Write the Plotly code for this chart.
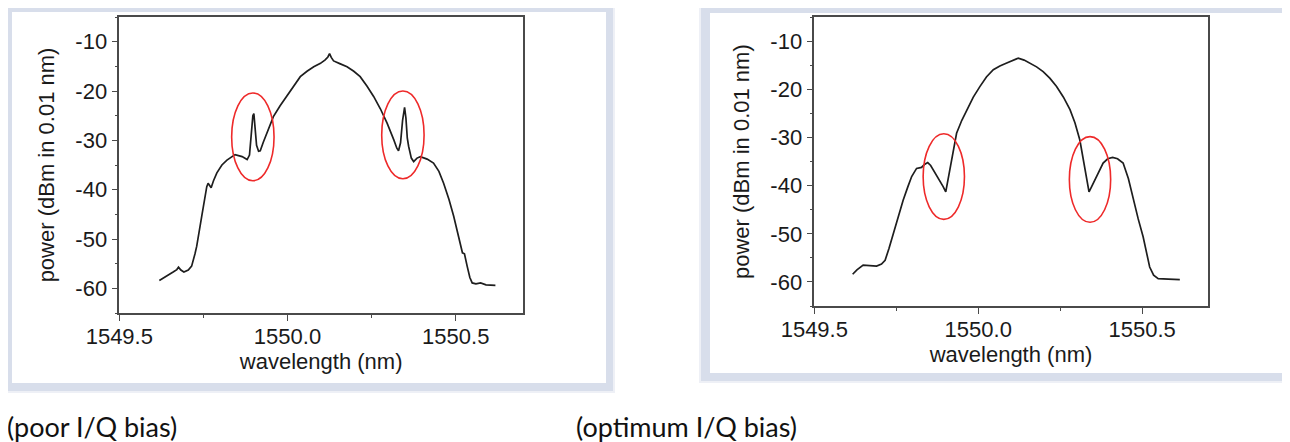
import plotly.graph_objects as go

W, H = 1290, 442      # size of the picture to match
PAGE_MARGIN = 8        # default body margin of the html page
FIG_W, FIG_H = W - PAGE_MARGIN, H - PAGE_MARGIN

# ── data ─────────────────────────────────────────────────────────────
POOR_WL = [1549.619, 1549.640, 1549.660, 1549.671, 1549.676, 1549.683, 1549.692,
           1549.705, 1549.715, 1549.725, 1549.730, 1549.745, 1549.755, 1549.760,
           1549.764, 1549.768, 1549.773, 1549.780, 1549.790, 1549.805, 1549.820,
           1549.844, 1549.865, 1549.880, 1549.887, 1549.892, 1549.897, 1549.900,
           1549.903, 1549.908, 1549.914, 1549.919, 1549.928, 1549.939, 1549.958,
           1549.978, 1549.998, 1550.018, 1550.038, 1550.058, 1550.078, 1550.098,
           1550.112, 1550.120, 1550.125, 1550.130, 1550.137, 1550.157, 1550.177,
           1550.197, 1550.216, 1550.236, 1550.256, 1550.276, 1550.296, 1550.316,
           1550.325, 1550.330, 1550.336, 1550.342, 1550.348, 1550.352, 1550.356,
           1550.360, 1550.368, 1550.375, 1550.385, 1550.395, 1550.415, 1550.434,
           1550.450, 1550.464, 1550.480, 1550.494, 1550.505, 1550.514, 1550.520,
           1550.526, 1550.530, 1550.534, 1550.542, 1550.549, 1550.560, 1550.574,
           1550.590, 1550.605, 1550.618]
POOR_DBM = [-58.4, -57.6, -56.7, -56.2, -55.7, -56.3, -56.7,
            -56.3, -55.5, -53.0, -51.5, -45.4, -41.0, -39.4,
            -38.7, -39.2, -39.6, -38.2, -36.6, -35.0, -34.0,
            -32.9, -33.3, -33.9, -33.0, -29.0, -25.0, -24.6,
            -26.5, -31.0, -32.2, -32.1, -30.4, -28.5, -25.2,
            -23.0, -21.1, -19.0, -17.1, -16.0, -15.1, -14.4,
            -13.7, -13.1, -12.4, -13.2, -13.9, -14.5, -15.1,
            -16.0, -17.1, -19.0, -21.1, -23.6, -26.5, -29.9,
            -31.6, -32.1, -30.5, -26.0, -23.3, -25.5, -29.5,
            -31.2, -33.6, -34.3, -33.6, -33.3, -33.8, -34.6,
            -36.3, -38.7, -42.0, -45.4, -48.8, -51.5, -52.8,
            -53.0, -54.0, -55.5, -57.8, -58.9, -59.1, -58.9,
            -59.3, -59.3, -59.4]

OPT_WL = [1549.617, 1549.630, 1549.649, 1549.665, 1549.690, 1549.705, 1549.716,
          1549.728, 1549.741, 1549.756, 1549.771, 1549.785, 1549.797, 1549.812,
          1549.827, 1549.836, 1549.846, 1549.855, 1549.863, 1549.873, 1549.883,
          1549.893, 1549.901, 1549.907, 1549.914, 1549.924, 1549.934, 1549.950,
          1549.965, 1549.985, 1550.005, 1550.025, 1550.046, 1550.066, 1550.087,
          1550.105, 1550.122, 1550.140, 1550.158, 1550.178, 1550.198, 1550.219,
          1550.239, 1550.260, 1550.280, 1550.295, 1550.310, 1550.325, 1550.338,
          1550.346, 1550.356, 1550.368, 1550.381, 1550.395, 1550.410, 1550.425,
          1550.442, 1550.458, 1550.473, 1550.488, 1550.503, 1550.513, 1550.523,
          1550.535, 1550.549, 1550.580, 1550.615]
OPT_DBM = [-58.4, -57.5, -56.5, -56.6, -56.7, -56.3, -55.5,
           -53.0, -49.9, -46.3, -43.0, -40.3, -38.1, -36.4,
           -36.2, -35.6, -35.2, -35.8, -36.7, -38.1, -39.2,
           -40.2, -41.3, -39.0, -36.0, -32.3, -29.1, -26.4,
           -24.2, -21.6, -19.4, -17.4, -15.9, -15.1, -14.5,
           -14.0, -13.5, -13.9, -14.5, -15.3, -16.3, -17.7,
           -19.4, -21.6, -24.2, -26.9, -30.5, -36.0, -41.3,
           -40.2, -38.8, -36.9, -35.3, -34.4, -34.1, -34.4,
           -35.3, -38.5, -43.0, -46.9, -50.6, -53.8, -56.9,
           -58.6, -59.3, -59.4, -59.5]

# highlighted features: (centre nm, centre dBm), half-width nm, half-height dB
POOR_MARKS = [(1549.897, -29.3), (1550.343, -28.9)]
OPT_MARKS = [(1549.895, -38.1), (1550.341, -38.7)]
MARK_HALF = (0.063, 8.9)

X_TICKS = [1549.5, 1550.0, 1550.5]
Y_TICKS = [-10, -20, -30, -40, -50, -60]

CAPTIONS = ["(poor I/Q bias)", "(optimum I/Q bias)"]


# ── layout in page pixels (figure sits inside the body margin) ──────
def px(x):
    return (x - PAGE_MARGIN) / FIG_W


def py(y):
    return 1 - (y - PAGE_MARGIN) / FIG_H


AX_FONT = dict(family="Liberation Sans, Arial, sans-serif", size=22, color="#1a1a1a")
CAP_FONT = dict(family="Lato, sans-serif", size=27, color="#111")
LINE_COL = "#4a4a4a"

fig = go.Figure()
for xa, ya, wl, dbm in (("x", "y", POOR_WL, POOR_DBM), ("x2", "y2", OPT_WL, OPT_DBM)):
    fig.add_trace(go.Scatter(x=wl, y=dbm, mode="lines", xaxis=xa, yaxis=ya,
                             showlegend=False, hoverinfo="skip",
                             line=dict(color="#1e1e1e", width=1.7)))


def xaxis(domain, anchor):
    return dict(domain=domain, anchor=anchor, range=[1549.5, 1550.7],
                tickvals=X_TICKS, ticktext=[f"{v:.1f}" for v in X_TICKS],
                showline=True, mirror=True, linecolor=LINE_COL, linewidth=1.5,
                ticks="outside", ticklen=6, tickwidth=1.3, tickcolor=LINE_COL,
                minor=dict(dtick=0.25, tick0=1549.5, ticks="outside", ticklen=3,
                           tickcolor=LINE_COL),
                showgrid=False, zeroline=False, tickfont=AX_FONT, automargin=False,
                ticklabelstandoff=-3,
                title=dict(text="wavelength (nm)", font=AX_FONT, standoff=4))


def yaxis(domain, anchor):
    return dict(domain=domain, anchor=anchor, range=[-65, -5],
                tickvals=Y_TICKS, ticktext=[str(v) for v in Y_TICKS],
                showline=True, mirror=True, linecolor=LINE_COL, linewidth=1.5,
                ticks="outside", ticklen=6, tickwidth=1.3, tickcolor=LINE_COL,
                minor=dict(dtick=5, tick0=-10, ticks="outside", ticklen=3,
                           tickcolor=LINE_COL),
                showgrid=False, zeroline=False, tickfont=AX_FONT, automargin=False,
                title=dict(text="power (dBm in 0.01 nm)", font=AX_FONT, standoff=15))


shapes = []
# picture frames with a soft blue-grey border
for x0, y0, x1, y1 in ((12, 12, 606, 383), (710, 13, 1287, 373)):
    shapes.append(dict(type="rect", xref="paper", yref="paper", layer="below",
                       x0=px(x0 - 11), x1=px(x1 + 9), y0=py(y1 + 10), y1=py(y0 - 11),
                       fillcolor="#eef0f6", line_width=0))
    shapes.append(dict(type="rect", xref="paper", yref="paper", layer="below",
                       x0=px(x0 - 9), x1=px(x1 + 7), y0=py(y1 + 8), y1=py(y0 - 9),
                       fillcolor="#d8deeb", line_width=0))
    shapes.append(dict(type="rect", xref="paper", yref="paper", layer="below",
                       x0=px(x0), x1=px(x1), y0=py(y1), y1=py(y0),
                       fillcolor="white", line_width=0))

for (xr, yr), marks in ((("x", "y"), POOR_MARKS), (("x2", "y2"), OPT_MARKS)):
    for cx, cy in marks:
        shapes.append(dict(type="circle", xref=xr, yref=yr,
                           x0=cx - MARK_HALF[0], x1=cx + MARK_HALF[0],
                           y0=cy - MARK_HALF[1], y1=cy + MARK_HALF[1],
                           line=dict(color="#ee2a2a", width=1.6)))

annotations = [
    dict(text=CAPTIONS[0], xref="paper", yref="paper", x=px(5), y=py(426),
         xanchor="left", yanchor="middle", showarrow=False, font=CAP_FONT),
    dict(text=CAPTIONS[1], xref="paper", yref="paper", x=px(574), y=py(426),
         xanchor="left", yanchor="middle", showarrow=False, font=CAP_FONT),
]

fig.update_layout(
    width=FIG_W, height=FIG_H, margin=dict(l=0, r=0, t=0, b=0),
    paper_bgcolor="white", plot_bgcolor="rgba(0,0,0,0)",
    xaxis=xaxis([px(119.3), px(523)], "y"),
    yaxis=yaxis([py(313), py(17)], "x"),
    xaxis2=xaxis([px(814.3), px(1207.7)], "y2"),
    yaxis2=yaxis([py(306), py(17.3)], "x2"),
    shapes=shapes, annotations=annotations,
)

fig.write_html("out.html")
